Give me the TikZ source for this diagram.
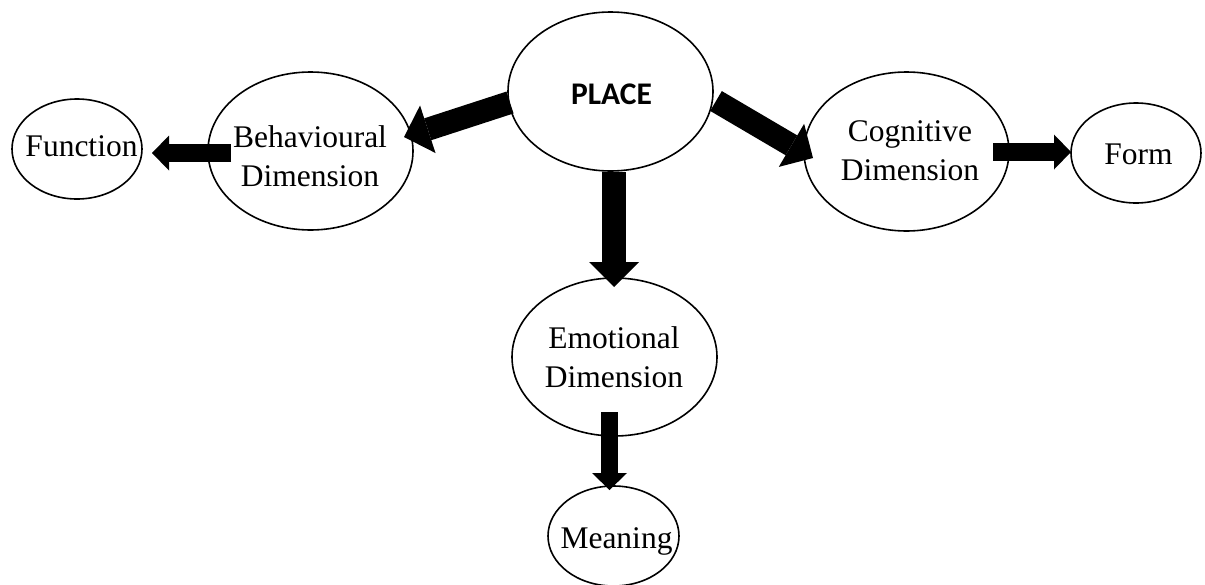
\documentclass[tikz,border=0pt]{standalone}
\usepackage{fontspec}
\setmainfont{Liberation Serif}
\newfontfamily\calibri{Carlito}
\usetikzlibrary{arrows.meta,calc,shapes.geometric}
\begin{document}
\begin{tikzpicture}[x=1pt,y=-1pt,
  ell/.style={draw, line width=1.6pt, ellipse, inner sep=0pt, fill=white},
  txt/.style={inner sep=0pt, align=center, font=\fontsize{31.5}{39.5}\selectfont},
  fatarrow/.style={line width=23pt, -{Triangle[width=50pt,length=25pt,line width=0pt]}},
  slimarrow/.style={line width=18pt, -{Triangle[width=35pt,length=17pt,line width=0pt]}}]
\useasboundingbox (0,0) rectangle (1205,584);
\clip (0,0) rectangle (1205,584);
% ellipses
\node[ell, minimum width=205pt, minimum height=159pt] (place) at (610.5,91.5) {};
\node[ell, minimum width=205pt, minimum height=158pt] (behav) at (310.5,151) {};
\node[ell, minimum width=130pt, minimum height=100pt] (func) at (77,149) {};
\node[ell, minimum width=205pt, minimum height=159pt] (cog) at (906.5,151.5) {};
\node[ell, minimum width=130pt, minimum height=100pt] (form) at (1136,153) {};
\node[ell, minimum width=205pt, minimum height=158pt] (emo) at (614.5,357) {};
\node[ell, minimum width=131pt, minimum height=100pt] (mean) at (613.5,536) {};
% arrows
\draw[fatarrow] ($(place)+(-100.5,11)$) -- ($(behav)+(93.5,-14)$);
\draw[fatarrow] ($(place)+(105.5,9.5)$) -- ($(cog)+(-93.5,6.5)$);
\draw[fatarrow, line width=24pt] ($(place)+(3.5,80.5)$) -- ($(emo)+(-0.5,-70)$);
\draw[slimarrow] ($(behav)+(-79.5,2)$) -- ($(func)+(75,4)$);
\draw[slimarrow] ($(cog)+(86.5,0.5)$) -- ($(form)+(-65,-1)$);
\draw[slimarrow, line width=17pt] ($(emo)+(-5,55)$) -- ($(mean)+(-4,-46)$);
% texts
\node[txt] (placeT) at (611.5,94) {\calibri\bfseries PLACE};
\node[txt] (behavT) at (310,156) {Behavioural\\Dimension};
\node[txt] (funcT) at (81.5,146.7) {Function};
\node[txt] (cogT) at (910,150.5) {Cognitive\\Dimension};
\node[txt] (formT) at (1138.5,154.7) {Form};
\node[txt] (emoT) at (614,357) {Emotional\\Dimension};
\node[txt] (meanT) at (616.5,541) {Meaning};
\end{tikzpicture}
\end{document}
